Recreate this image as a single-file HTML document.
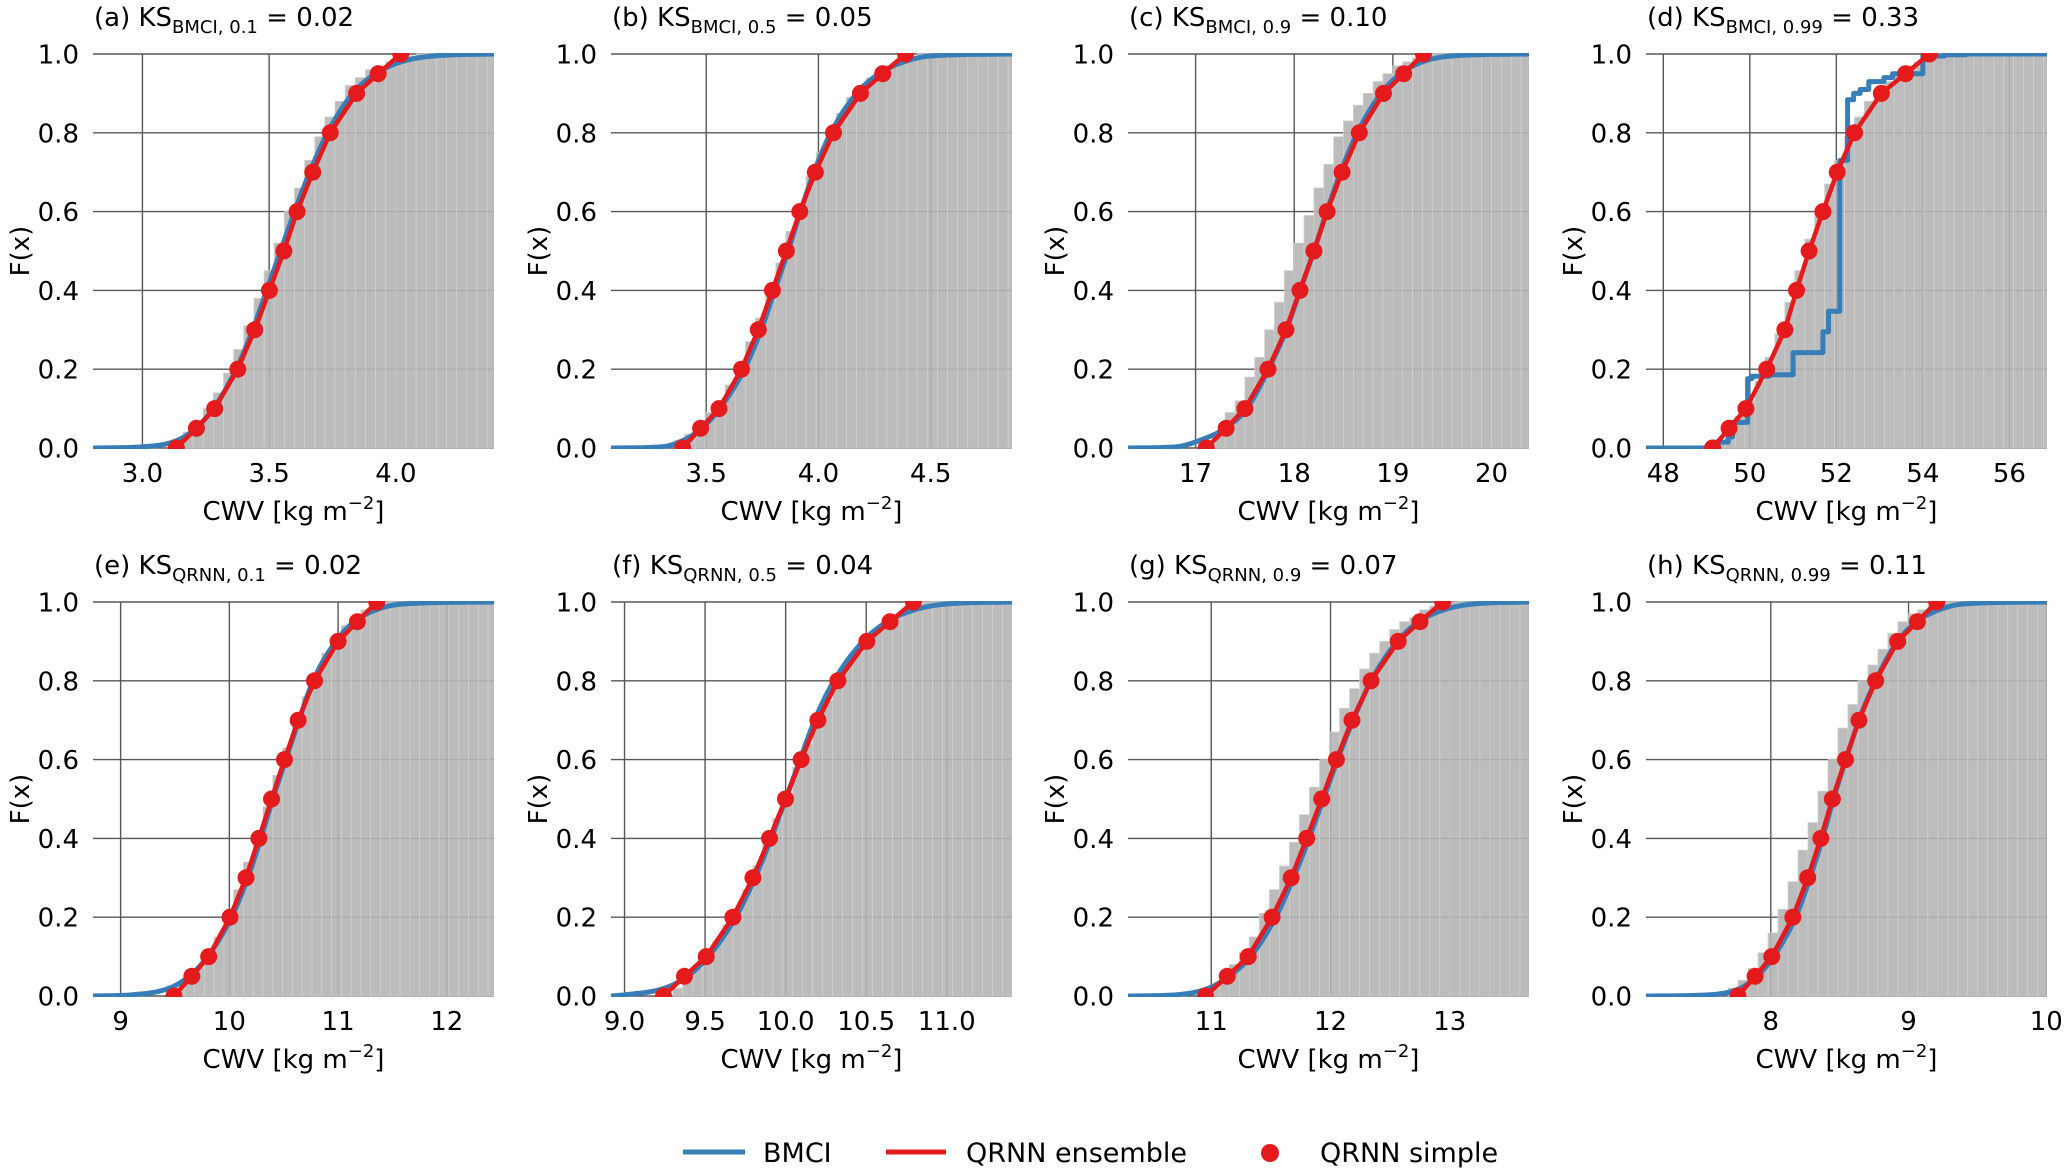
<!DOCTYPE html>
<html><head><meta charset="utf-8"><style>
html,body{margin:0;padding:0;background:#fff;}
svg{display:block;font-family:"DejaVu Sans","Liberation Sans",sans-serif;}
</style></head><body>
<svg id="fig" width="2067" height="1172" viewBox="0 0 2067 1172" xmlns="http://www.w3.org/2000/svg"></svg>
<script>
// ---------- DATA ----------
const panelLetters = ["a","b","c","d","e","f","g","h"];
const panelMethods = ["BMCI","BMCI","BMCI","BMCI","QRNN","QRNN","QRNN","QRNN"];
const panelQuantiles = ["0.1","0.5","0.9","0.99","0.1","0.5","0.9","0.99"];
const panelKS = ["0.02","0.05","0.10","0.33","0.02","0.04","0.07","0.11"];
const xDomains = [[2.805,4.387],[3.076,4.862],[16.315,20.38],[47.6,56.87],[8.746,12.434],[8.916,11.405],[10.302,13.664],[7.094,10.005]];
const xTicks = [[3.0,3.5,4.0],[3.5,4.0,4.5],[17,18,19,20],[48,50,52,54,56],[9,10,11,12],[9.0,9.5,10.0,10.5,11.0],[11,12,13],[8,9,10]];
const xTickLabels = [["3.0","3.5","4.0"],["3.5","4.0","4.5"],["17","18","19","20"],["48","50","52","54","56"],["9","10","11","12"],["9.0","9.5","10.0","10.5","11.0"],["11","12","13"],["8","9","10"]];
const yTicks = [0,0.2,0.4,0.6,0.8,1.0];
const yTickLabels = ["0.0","0.2","0.4","0.6","0.8","1.0"];

// QRNN simple points / ensemble line: x at quantile levels
const qLevels = [0,0.05,0.1,0.2,0.3,0.4,0.5,0.6,0.7,0.8,0.9,0.95,1.0];
const redX_a = [3.134,3.213,3.285,3.376,3.443,3.501,3.558,3.610,3.672,3.741,3.845,3.930,4.019];
const redX_b = [3.395,3.475,3.557,3.657,3.732,3.795,3.857,3.917,3.986,4.067,4.187,4.286,4.388];
const redX_c = [17.108,17.31,17.50,17.734,17.916,18.058,18.20,18.333,18.485,18.66,18.905,19.11,19.31];
const redX_d = [49.14,49.52,49.91,50.39,50.81,51.08,51.37,51.69,52.02,52.42,53.04,53.60,54.15];
const redX_e = [9.49,9.655,9.81,10.006,10.153,10.272,10.388,10.507,10.633,10.783,11.0,11.177,11.355];
const redX_f = [9.242,9.372,9.507,9.672,9.797,9.90,9.999,10.096,10.20,10.324,10.504,10.648,10.793];
const redX_g = [10.952,11.134,11.31,11.51,11.67,11.80,11.926,12.049,12.18,12.34,12.567,12.75,12.94];
const redX_h = [7.761,7.886,8.007,8.16,8.268,8.363,8.447,8.542,8.64,8.761,8.921,9.064,9.204];

// BMCI smooth CDF: x at levels
const blueLevels = [0,0.003,0.02,0.05,0.1,0.2,0.3,0.4,0.5,0.6,0.7,0.8,0.9,0.95,0.98,0.995,1.0];
const blueX_a = [2.805,3.0,3.14,3.21,3.28,3.37,3.435,3.49,3.545,3.60,3.66,3.73,3.83,3.92,4.02,4.15,4.387];
const blueX_b = [3.076,3.3,3.40,3.48,3.56,3.67,3.745,3.805,3.865,3.92,3.98,4.055,4.17,4.27,4.38,4.5,4.862];
const blueX_c = [16.315,16.8,17.05,17.3,17.52,17.74,17.92,18.06,18.20,18.33,18.47,18.64,18.88,19.08,19.3,19.6,20.38];
const blueX_e = [8.746,9.1,9.45,9.63,9.8,10.02,10.17,10.29,10.40,10.52,10.64,10.77,10.98,11.15,11.35,11.6,12.434];
const blueX_f = [8.916,9.0,9.25,9.39,9.52,9.69,9.81,9.91,10.0,10.09,10.18,10.30,10.48,10.63,10.8,11.0,11.405];
const blueX_g = [10.302,10.7,10.98,11.15,11.33,11.54,11.69,11.82,11.94,12.06,12.19,12.34,12.56,12.74,12.95,13.2,13.664];
const blueX_h = [7.094,7.55,7.78,7.9,8.02,8.18,8.285,8.375,8.455,8.545,8.64,8.76,8.92,9.06,9.22,9.4,10.005];
// BMCI step CDF for panel d
const stepX_d = [47.6,49.0,49.2,49.5,49.6,49.95,50.05,50.45,51.0,51.69,51.82,52.08,52.26,52.4,52.55,52.75,53.1,53.3,54.0,54.5,55.0,56.87];
const stepY_d = [0,0.003,0.015,0.028,0.065,0.176,0.182,0.186,0.242,0.295,0.347,0.73,0.884,0.90,0.91,0.93,0.94,0.95,0.995,0.998,1.0,1.0];

// reference histogram (cumulative): start, bin width, heights (bins after list stay at 1)
const histStart = [3.12,3.36,17.1,49.2,9.5,9.3,10.984,7.69];
const histStep = [0.04,0.045,0.1,0.23,0.09,0.062,0.084,0.0725];
const hist_a = [0.02,0.04,0.07,0.10,0.14,0.19,0.25,0.31,0.38,0.45,0.52,0.60,0.66,0.73,0.79,0.84,0.88,0.92,0.94,0.96,0.97,0.98,0.99,0.995];
const hist_b = [0.02,0.035,0.05,0.09,0.12,0.16,0.21,0.27,0.33,0.40,0.47,0.55,0.62,0.69,0.75,0.80,0.85,0.89,0.92,0.94,0.96,0.97,0.98,0.99];
const hist_c = [0.02,0.04,0.09,0.12,0.18,0.23,0.30,0.37,0.45,0.52,0.59,0.66,0.72,0.79,0.83,0.87,0.90,0.93,0.95,0.97,0.98,0.99];
const hist_d = [0.02,0.04,0.08,0.12,0.17,0.23,0.29,0.37,0.45,0.53,0.60,0.67,0.73,0.79,0.84,0.88,0.91,0.93,0.95,0.97,0.98,0.99];
const hist_e = [0.02,0.04,0.07,0.11,0.15,0.21,0.27,0.34,0.41,0.48,0.56,0.63,0.70,0.76,0.82,0.87,0.91,0.94,0.96,0.98,0.99];
const hist_f = [0.02,0.05,0.07,0.10,0.14,0.18,0.22,0.27,0.33,0.39,0.45,0.51,0.58,0.64,0.70,0.75,0.79,0.84,0.87,0.90,0.93,0.95,0.96,0.98,0.99];
const hist_g = [0.02,0.04,0.08,0.11,0.15,0.21,0.27,0.33,0.39,0.46,0.53,0.60,0.67,0.73,0.78,0.83,0.87,0.90,0.93,0.95,0.96,0.98,0.99];
const hist_h = [0.02,0.04,0.07,0.11,0.16,0.22,0.29,0.37,0.44,0.52,0.60,0.68,0.74,0.80,0.84,0.88,0.92,0.95,0.97,0.98,0.99];

const redXs = [redX_a,redX_b,redX_c,redX_d,redX_e,redX_f,redX_g,redX_h];
const blueXs = [blueX_a,blueX_b,blueX_c,null,blueX_e,blueX_f,blueX_g,blueX_h];
const hists = [hist_a,hist_b,hist_c,hist_d,hist_e,hist_f,hist_g,hist_h];

// ---------- LAYOUT ----------
const NS = "http://www.w3.org/2000/svg";
const svg = document.getElementById("fig");
const colLeft = [93,611,1128,1646];
const plotW = 401;
const rowTop = [54,602];
const plotH = 394;
const RED = "#e41a1c", BLUE = "#377eb8";
const FS = 26;

function mk(tag, attrs, parent){
  const e = document.createElementNS(NS, tag);
  for (const k in attrs) e.setAttribute(k, attrs[k]);
  (parent||svg).appendChild(e);
  return e;
}

const defs = mk("defs",{});

for (let p = 0; p < 8; p++) {
  const L = colLeft[p%4], T = rowTop[Math.floor(p/4)];
  const [x0,x1] = xDomains[p];
  const sx = v => L + (v - x0)/(x1 - x0)*plotW;
  const sy = v => T + (1 - v)*plotH;
  const g = mk("g",{});
  
  
  const cp = mk("clipPath",{id:"clip"+p}, defs);
  mk("rect",{x:L,y:T-1,width:plotW,height:plotH+2}, cp);

  // grid
  const grid = mk("g",{stroke:"#3a3a3a","stroke-width":1.4,opacity:0.85}, g);
  
  
  yTicks.forEach(v => mk("line",{x1:L,x2:L+plotW,y1:sy(v),y2:sy(v)}, grid));
  xTicks[p].forEach(v => mk("line",{x1:sx(v),x2:sx(v),y1:T,y2:T+plotH}, grid));

  // histogram
  const hg = mk("g",{"clip-path":`url(#clip${p})`}, g);
  
  
  const h = hists[p];
  for (let i = 0; ; i++) {
    const a = histStart[p] + i*histStep[p];
    if (a > x1) break;
    const v = i < h.length ? h[i] : 1.0;
    const r = mk("rect",{x:sx(a),y:sy(v),width:sx(a+histStep[p])-sx(a),height:sy(0)-sy(v),fill:"#b5b5b5","fill-opacity":0.9,stroke:"#cfcfcf","stroke-width":0.8}, hg);
    
    
  }

  // BMCI
  let bd = "";
  if (blueXs[p]) {
    const bx = blueXs[p];
    const n = bx.length, d = [], m = [];
    for (let i=0;i<n-1;i++) d.push((blueLevels[i+1]-blueLevels[i])/(bx[i+1]-bx[i]));
    m.push(d[0]);
    for (let i=1;i<n-1;i++) m.push(d[i-1]*d[i] <= 0 ? 0 : (d[i-1]+d[i])/2);
    m.push(d[n-2]);
    for (let i=0;i<n-1;i++){ if(d[i]===0){m[i]=m[i+1]=0;continue;} const a=m[i]/d[i], b=m[i+1]/d[i], s=a*a+b*b; if(s>9){const t=3/Math.sqrt(s); m[i]=t*a*d[i]; m[i+1]=t*b*d[i];} }
    bd = `M${sx(bx[0])},${sy(blueLevels[0])}`;
    for (let i=0;i<n-1;i++){
      const hh = bx[i+1]-bx[i];
      for (let k=1;k<=12;k++){
        const t=k/12, t2=t*t, t3=t2*t;
        const y=(2*t3-3*t2+1)*blueLevels[i]+(t3-2*t2+t)*hh*m[i]+(-2*t3+3*t2)*blueLevels[i+1]+(t3-t2)*hh*m[i+1];
        bd += ` L${sx(bx[i]+t*hh).toFixed(2)},${sy(y).toFixed(2)}`;
      }
    }
  } else {
    bd = `M${sx(stepX_d[0])},${sy(stepY_d[0])}`;
    for (let i=1;i<stepX_d.length;i++) bd += ` L${sx(stepX_d[i])},${sy(stepY_d[i-1])} L${sx(stepX_d[i])},${sy(stepY_d[i])}`;
  }
  const bl = mk("path",{d:bd,fill:"none",stroke:BLUE,"stroke-width":5,"stroke-linejoin":"round","clip-path":`url(#clip${p})`}, g);
  
  

  // QRNN ensemble
  const rx = redXs[p];
  const rl = mk("polyline",{points:rx.map((x,i)=>`${sx(x)},${sy(qLevels[i])}`).join(" "),fill:"none",stroke:RED,"stroke-width":4.5,"stroke-linejoin":"round","clip-path":`url(#clip${p})`}, g);
  
  
  const mg = mk("g",{"clip-path":`url(#clip${p})`}, g);
  rx.forEach((x,i)=>{
    const c = mk("circle",{cx:sx(x),cy:sy(qLevels[i]),r:8.5,fill:RED}, mg);
    
    
  });

  // tick labels
  yTicks.forEach((v,i)=>{
    const t = mk("text",{x:L-14,y:sy(v)+9.5,"text-anchor":"end","font-size":FS,fill:"#000"}, g);
    t.textContent = yTickLabels[i];
    
    
  });
  xTicks[p].forEach((v,i)=>{
    const t = mk("text",{x:sx(v),y:T+plotH+34,"text-anchor":"middle","font-size":FS,fill:"#000"}, g);
    t.textContent = xTickLabels[p][i];
    
    
  });
  // axis labels
  const xl = mk("text",{x:L+plotW/2,y:T+plotH+72,"text-anchor":"middle","font-size":FS,fill:"#000"}, g);
  xl.innerHTML = 'CWV [kg m<tspan dy="-11" font-size="18">−2</tspan><tspan dy="11">]</tspan>';
  
  
  const yx = L-64, yy = T+plotH/2;
  const yl = mk("text",{x:yx,y:yy,"text-anchor":"middle","font-size":FS,fill:"#000",transform:`rotate(-90 ${yx} ${yy})`}, g);
  yl.textContent = "F(x)";
  
  
  // title
  const tt = mk("text",{x:L+1,y:T-28,"font-size":FS,fill:"#000"}, g);
  tt.innerHTML = `(${panelLetters[p]}) KS<tspan dy="7" font-size="18">${panelMethods[p]}, ${panelQuantiles[p]}</tspan><tspan dy="-7"> = ${panelKS[p]}</tspan>`;
  
  
}

// legend
const lg = mk("g",{});


const e1 = mk("line",{x1:683,x2:745,y1:1152,y2:1152,stroke:BLUE,"stroke-width":5}, lg);


const t1 = mk("text",{x:763,y:1162,"font-size":27}, lg); t1.textContent = "BMCI";


const e2 = mk("line",{x1:886,x2:946,y1:1152,y2:1152,stroke:RED,"stroke-width":5}, lg);


const t2 = mk("text",{x:966,y:1162,"font-size":27}, lg); t2.textContent = "QRNN ensemble";


const e3 = mk("circle",{cx:1270,cy:1153,r:9,fill:RED}, lg);


const t3 = mk("text",{x:1320,y:1162,"font-size":27}, lg); t3.textContent = "QRNN simple";


</script>
</body></html>
